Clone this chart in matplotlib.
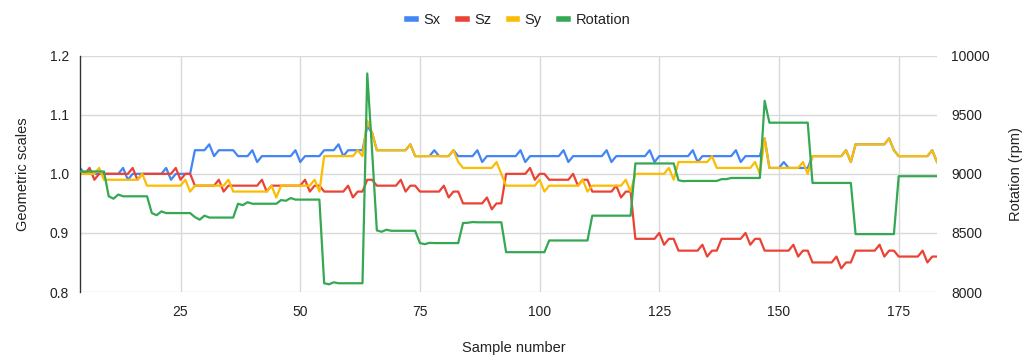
import numpy as np
import matplotlib
matplotlib.use('Agg')
import matplotlib.pyplot as plt
from matplotlib.lines import Line2D

plt.rcParams['font.family'] = ['Liberation Sans', 'DejaVu Sans']

# sample numbers 4..183
samples = np.arange(4, 184)

sx = [1.01, 1.00, 1.00, 1.00, 1.00, 1.00, 1.00, 1.00, 1.00, 1.01,
      0.99, 1.00, 1.00, 1.00, 1.00, 1.00, 1.00, 1.00, 1.01, 0.99,
      1.00, 1.00, 1.00, 1.00, 1.04, 1.04, 1.04, 1.05, 1.03, 1.04,
      1.04, 1.04, 1.04, 1.03, 1.03, 1.03, 1.04, 1.02, 1.03, 1.03,
      1.03, 1.03, 1.03, 1.03, 1.03, 1.04, 1.02, 1.03, 1.03, 1.03,
      1.03, 1.04, 1.04, 1.04, 1.05, 1.03, 1.04, 1.04, 1.04, 1.04,
      1.08, 1.07, 1.04, 1.04, 1.04, 1.04, 1.04, 1.04, 1.04, 1.05,
      1.03, 1.03, 1.03, 1.03, 1.04, 1.03, 1.03, 1.03, 1.04, 1.03,
      1.03, 1.03, 1.03, 1.04, 1.02, 1.03, 1.03, 1.03, 1.03, 1.03,
      1.03, 1.03, 1.04, 1.02, 1.03, 1.03, 1.03, 1.03, 1.03, 1.03,
      1.03, 1.04, 1.02, 1.03, 1.03, 1.03, 1.03, 1.03, 1.03, 1.03,
      1.04, 1.02, 1.03, 1.03, 1.03, 1.03, 1.03, 1.03, 1.03, 1.04,
      1.02, 1.03, 1.03, 1.03, 1.03, 1.03, 1.03, 1.03, 1.04, 1.02,
      1.03, 1.03, 1.03, 1.03, 1.03, 1.03, 1.03, 1.04, 1.02, 1.03,
      1.03, 1.03, 1.03, 1.06, 1.01, 1.01, 1.01, 1.02, 1.01, 1.01,
      1.01, 1.01, 1.01, 1.03, 1.03, 1.03, 1.03, 1.03, 1.03, 1.03,
      1.04, 1.02, 1.05, 1.05, 1.05, 1.05, 1.05, 1.05, 1.05, 1.06,
      1.04, 1.03, 1.03, 1.03, 1.03, 1.03, 1.03, 1.03, 1.04, 1.02]

sz = [1.00, 1.00, 1.01, 0.99, 1.00, 1.00, 1.00, 1.00, 1.00, 1.00,
      1.00, 1.01, 0.99, 1.00, 1.00, 1.00, 1.00, 1.00, 1.00, 1.00,
      1.01, 0.99, 1.00, 1.00, 0.98, 0.98, 0.98, 0.98, 0.98, 0.99,
      0.97, 0.98, 0.98, 0.98, 0.98, 0.98, 0.98, 0.98, 0.99, 0.97,
      0.98, 0.98, 0.98, 0.98, 0.98, 0.98, 0.98, 0.99, 0.97, 0.98,
      0.98, 0.97, 0.97, 0.97, 0.97, 0.97, 0.98, 0.96, 0.97, 0.97,
      0.99, 0.99, 0.98, 0.98, 0.98, 0.98, 0.98, 0.99, 0.97, 0.98,
      0.98, 0.97, 0.97, 0.97, 0.97, 0.97, 0.98, 0.96, 0.97, 0.97,
      0.95, 0.95, 0.95, 0.95, 0.95, 0.96, 0.94, 0.95, 0.95, 1.00,
      1.00, 1.00, 1.00, 1.00, 1.01, 0.99, 1.00, 1.00, 0.99, 0.99,
      0.99, 0.99, 0.99, 1.00, 0.98, 0.99, 0.99, 0.97, 0.97, 0.97,
      0.97, 0.97, 0.98, 0.96, 0.97, 0.97, 0.89, 0.89, 0.89, 0.89,
      0.89, 0.90, 0.88, 0.89, 0.89, 0.87, 0.87, 0.87, 0.87, 0.87,
      0.88, 0.86, 0.87, 0.87, 0.89, 0.89, 0.89, 0.89, 0.89, 0.90,
      0.88, 0.89, 0.89, 0.87, 0.87, 0.87, 0.87, 0.87, 0.87, 0.88,
      0.86, 0.87, 0.87, 0.85, 0.85, 0.85, 0.85, 0.85, 0.86, 0.84,
      0.85, 0.85, 0.87, 0.87, 0.87, 0.87, 0.87, 0.88, 0.86, 0.87,
      0.87, 0.86, 0.86, 0.86, 0.86, 0.86, 0.87, 0.85, 0.86, 0.86]

sy = [1.00, 1.00, 1.00, 1.00, 1.01, 0.99, 0.99, 0.99, 0.99, 0.99,
      0.99, 0.99, 0.99, 1.00, 0.98, 0.98, 0.98, 0.98, 0.98, 0.98,
      0.98, 0.98, 0.99, 0.97, 0.98, 0.98, 0.98, 0.98, 0.98, 0.98,
      0.98, 0.99, 0.97, 0.97, 0.97, 0.97, 0.97, 0.97, 0.97, 0.97,
      0.98, 0.96, 0.98, 0.98, 0.98, 0.98, 0.98, 0.98, 0.98, 0.99,
      0.97, 1.03, 1.03, 1.03, 1.03, 1.03, 1.03, 1.03, 1.04, 1.03,
      1.09, 1.07, 1.04, 1.04, 1.04, 1.04, 1.04, 1.04, 1.04, 1.05,
      1.03, 1.03, 1.03, 1.03, 1.03, 1.03, 1.03, 1.03, 1.04, 1.02,
      1.01, 1.01, 1.01, 1.01, 1.01, 1.01, 1.01, 1.02, 1.00, 0.98,
      0.98, 0.98, 0.98, 0.98, 0.98, 0.98, 0.99, 0.97, 0.98, 0.98,
      0.98, 0.98, 0.98, 0.98, 0.98, 0.99, 0.97, 0.98, 0.98, 0.98,
      0.98, 0.98, 0.98, 0.98, 0.99, 0.97, 1.00, 1.00, 1.00, 1.00,
      1.00, 1.00, 1.00, 1.01, 0.99, 1.02, 1.02, 1.02, 1.02, 1.02,
      1.02, 1.02, 1.03, 1.01, 1.01, 1.01, 1.01, 1.01, 1.01, 1.01,
      1.01, 1.02, 1.00, 1.06, 1.01, 1.01, 1.01, 1.01, 1.01, 1.01,
      1.01, 1.02, 1.00, 1.03, 1.03, 1.03, 1.03, 1.03, 1.03, 1.03,
      1.04, 1.02, 1.05, 1.05, 1.05, 1.05, 1.05, 1.05, 1.05, 1.06,
      1.04, 1.03, 1.03, 1.03, 1.03, 1.03, 1.03, 1.03, 1.04, 1.02]

rotation = [9020, 9020, 9020, 9020, 9020, 9020, 8810, 8790, 8825, 8810,
            8810, 8810, 8810, 8810, 8810, 8668, 8650, 8682, 8668, 8668,
            8668, 8668, 8668, 8668, 8634, 8612, 8646, 8630, 8630, 8630,
            8630, 8630, 8630, 8747, 8735, 8760, 8747, 8747, 8747, 8747,
            8747, 8747, 8778, 8772, 8795, 8782, 8782, 8782, 8782, 8782,
            8782, 8074, 8065, 8082, 8074, 8074, 8074, 8074, 8074, 8074,
            9850, 9200, 8521, 8510, 8527, 8518, 8518, 8518, 8518, 8518,
            8518, 8414, 8405, 8416, 8414, 8414, 8414, 8414, 8414, 8414,
            8584, 8586, 8592, 8590, 8590, 8590, 8590, 8590, 8590, 8337,
            8337, 8337, 8337, 8337, 8337, 8337, 8337, 8337, 8436, 8436,
            8436, 8436, 8436, 8436, 8436, 8436, 8436, 8646, 8646, 8646,
            8646, 8646, 8646, 8646, 8646, 8646, 9088, 9088, 9088, 9088,
            9088, 9088, 9088, 9088, 9088, 8946, 8938, 8940, 8940, 8940,
            8940, 8940, 8940, 8940, 8955, 8955, 8965, 8965, 8965, 8965,
            8965, 8965, 8965, 9618, 9433, 9433, 9433, 9433, 9433, 9433,
            9433, 9433, 9433, 8923, 8923, 8923, 8923, 8923, 8923, 8923,
            8923, 8923, 8490, 8490, 8490, 8490, 8490, 8490, 8490, 8490,
            8490, 8980, 8980, 8980, 8980, 8980, 8980, 8980, 8980, 8980]

x_ticks = [25, 50, 75, 100, 125, 150, 175]
left_ticks = [0.8, 0.9, 1.0, 1.1, 1.2]
right_ticks = [8000, 8500, 9000, 9500, 10000]

colors = {'Sx': '#4285f4', 'Sz': '#ea4335', 'Sy': '#fbbc04',
          'Rotation': '#34a853'}
text_color = '#222222'
grid_color = '#d9d9d9'

fig = plt.figure(figsize=(10.27, 3.57), dpi=100)
ax = fig.add_axes([80 / 1027, 65 / 357, 857 / 1027, 236.3 / 357])
ax2 = ax.twinx()

lw = 1.6
ax.plot(samples, sx, color=colors['Sx'], lw=lw)
ax.plot(samples, sz, color=colors['Sz'], lw=lw)
ax.plot(samples, sy, color=colors['Sy'], lw=lw)
ax2.plot(samples, rotation, color=colors['Rotation'], lw=lw)

ax.set_xlim(4, 183)
ax.set_ylim(0.8, 1.2)
ax2.set_ylim(8000, 10000)

ax.set_xticks(x_ticks)
ax.set_yticks(left_ticks)
ax.set_yticklabels([f'{v:.1f}' for v in left_ticks])
ax2.set_yticks(right_ticks)
ax2.set_yticklabels([str(v) for v in right_ticks])

ax.grid(True, color=grid_color, lw=1.0)
ax.set_axisbelow(True)
for a in (ax, ax2):
    for side in ('top', 'right', 'bottom'):
        a.spines[side].set_visible(False)
    a.tick_params(length=0, labelsize=10, colors=text_color)
ax2.spines['left'].set_visible(False)
ax.spines['left'].set_color('#333333')
ax.spines['left'].set_linewidth(1.0)
ax.tick_params(axis='y', pad=8)
ax.tick_params(axis='x', pad=9)
ax2.tick_params(axis='y', pad=10)

# axis titles
fig.text(0.5, 1 - 348 / 357, 'Sample number', ha='center', va='center',
         fontsize=10.5, color=text_color)
ax.set_ylabel('Geometric scales', fontsize=10.5, color=text_color, labelpad=14)
ax2.set_ylabel('Rotation (rpm)', fontsize=10.5, color=text_color,
               rotation=90, labelpad=14)

handles = [Line2D([0], [0], color=colors[k], lw=4) for k in colors]
fig.legend(handles, list(colors.keys()), loc='center',
           bbox_to_anchor=(0.505, 0.945), ncol=4, frameon=False,
           handlelength=0.6, handletextpad=0.5, columnspacing=1.2,
           fontsize=10.5, labelcolor=text_color)

fig.savefig('out.png', dpi=100)
